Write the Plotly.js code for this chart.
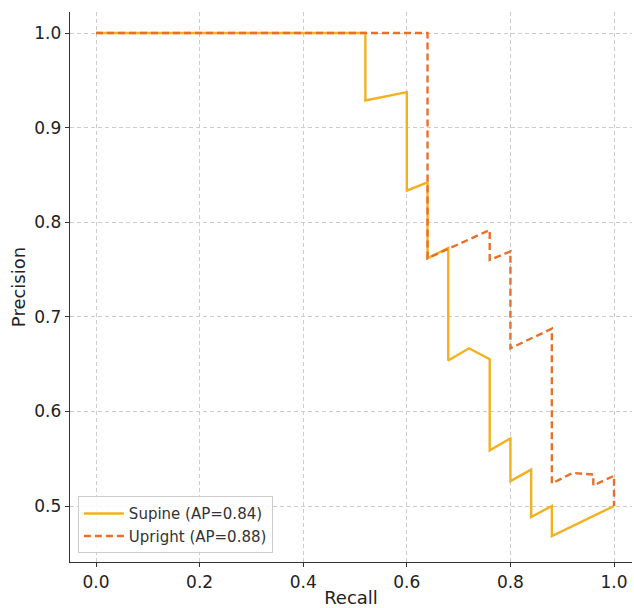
<!DOCTYPE html>
<html>
<head>
<meta charset="utf-8">
<script src="https://cdn.plot.ly/plotly-3.0.1.min.js"></script>
<style>html,body{margin:0;padding:0;background:#fff;}#chart{width:634px;height:608px;}</style>
</head>
<body>
<div id="chart"></div>
<script>
var supineRecall    = [0.0, 0.52, 0.52,   0.60,   0.60,   0.64,   0.64,   0.68,   0.68,   0.72,   0.76,   0.76,   0.80,   0.80,   0.84,   0.84,   0.88, 0.88,   1.00];
var supinePrecision = [1.0, 1.0,  0.9286, 0.9375, 0.8333, 0.8421, 0.7619, 0.7727, 0.6538, 0.6667, 0.6552, 0.5588, 0.5714, 0.5263, 0.5385, 0.4884, 0.5,  0.4681, 0.5];
var uprightRecall    = [0.0, 0.64, 0.64,   0.76,   0.76, 0.80,   0.80,   0.88,   0.88,   0.92,   0.96,   0.96,   1.00,   1.00];
var uprightPrecision = [1.0, 1.0,  0.7619, 0.7917, 0.76, 0.7692, 0.6667, 0.6875, 0.5238, 0.5349, 0.5333, 0.5217, 0.5319, 0.5];
var seriesNames = ["Supine (AP=0.84)", "Upright (AP=0.88)"];
var xTicks = [0, 0.2, 0.4, 0.6, 0.8, 1.0];
var yTicks = [0.5, 0.6, 0.7, 0.8, 0.9, 1.0];

var traces = [
  {x: supineRecall, y: supinePrecision, mode: 'lines', name: seriesNames[0],
   line: {color: '#F4B11F', width: 2.4}},
  {x: uprightRecall, y: uprightPrecision, mode: 'lines', name: seriesNames[1],
   line: {color: '#E8702B', width: 2.4, dash: '7px,4px'}}
];
var font = {family: 'DejaVu Sans, sans-serif', color: '#222', size: 17};
var layout = {
  width: 634, height: 608,
  margin: {l: 70, r: 2, t: 12, b: 46},
  paper_bgcolor: '#fff', plot_bgcolor: '#fff',
  font: font,
  showlegend: true,
  xaxis: {range: [-0.0502, 1.0347], tickvals: xTicks, ticktext: xTicks.map(function(v){return v.toFixed(1);}),
    showgrid: true, gridcolor: '#cccccc', griddash: '4px,3px', gridwidth: 1,
    zeroline: false, showline: true, linecolor: '#333', linewidth: 1.3,
    ticks: 'outside', ticklen: 4, tickcolor: '#333',
    title: {text: 'Recall', font: {size: 18}, standoff: 3}, tickfont: {size: 17}},
  yaxis: {range: [0.4408, 1.0222], tickvals: yTicks, ticktext: yTicks.map(function(v){return v.toFixed(1);}),
    showgrid: true, gridcolor: '#cccccc', griddash: '4px,3px', gridwidth: 1,
    zeroline: false, showline: true, linecolor: '#333', linewidth: 1.3,
    ticks: 'outside', ticklen: 4, tickcolor: '#333',
    title: {text: 'Precision', font: {size: 18}, standoff: 4}, tickfont: {size: 17}},
  legend: {x: 0.014, y: 0.016, xanchor: 'left', yanchor: 'bottom',
    bgcolor: 'rgba(255,255,255,0.85)', bordercolor: '#cccccc', borderwidth: 1,
    font: {size: 15, color: '#333'}, tracegroupgap: 2, itemwidth: 40}
};
Plotly.newPlot('chart', traces, layout, {displayModeBar: false, staticPlot: true});
</script>
</body>
</html>
